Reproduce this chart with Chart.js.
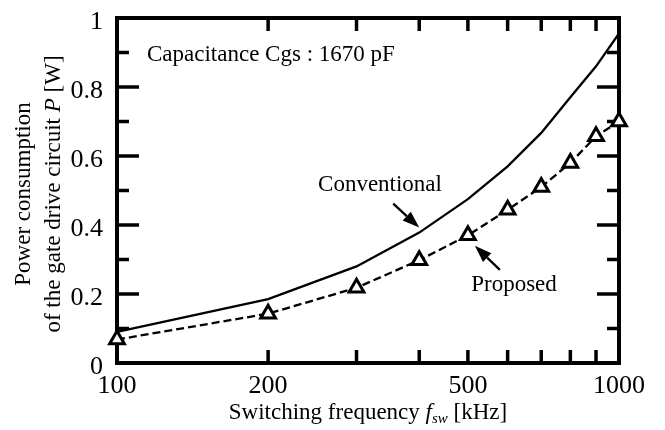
<!DOCTYPE html>
<html>
<head>
<meta charset="utf-8">
<script src="https://cdn.jsdelivr.net/npm/chart.js@4.4.0/dist/chart.umd.min.js"></script>
<style>
  html, body { margin: 0; padding: 0; background: #fff; }
  #wrap { width: 665px; height: 430px; }
</style>
</head>
<body>
<div id="wrap"><canvas id="powerChart" width="665" height="430"></canvas></div>
<script>
// switching frequency [kHz]
const freqs = [100, 200, 300, 400, 500, 600, 700, 800, 900, 1000];
// power consumption [W]
const conventional = [0.09, 0.185, 0.28, 0.378, 0.475, 0.57, 0.667, 0.77, 0.86, 0.955];
const proposed = [0.068, 0.143, 0.218, 0.298, 0.37, 0.444, 0.51, 0.58, 0.657, 0.70];

const xTickValues = [100, 200, 300, 400, 500, 600, 700, 800, 900, 1000];
const xTickLabels = { 100: '100', 200: '200', 500: '500', 1000: '1000' };
const yMajorTicks = [0, 0.2, 0.4, 0.6, 0.8, 1];
const yMinorTicks = [0.1, 0.3, 0.5, 0.7, 0.9];

const SERIF = '"Liberation Serif", "Times New Roman", serif';
const ctx = document.getElementById('powerChart').getContext('2d');

// draw a run of text pieces (normal / italic / subscript) centred on x
function drawRich(c, parts, x, y) {
    let total = 0;
    parts.forEach((p) => {
        c.font = p.font;
        p.w = c.measureText(p.text).width;
        total += p.w;
    });
    let cx = x - total / 2;
    c.textAlign = 'left';
    c.textBaseline = 'alphabetic';
    parts.forEach((p) => {
        c.font = p.font;
        c.fillText(p.text, cx, y + (p.dy || 0));
        cx += p.w;
    });
}

function arrow(c, x0, y0, x1, y1) {
    const ang = Math.atan2(y1 - y0, x1 - x0);
    const len = 17, half = 6;
    const bx = x1 - len * Math.cos(ang), by = y1 - len * Math.sin(ang);
    c.lineWidth = 2.3;
    c.beginPath();
    c.moveTo(x0, y0);
    c.lineTo(bx, by);
    c.stroke();
    c.beginPath();
    c.moveTo(x1, y1);
    c.lineTo(bx + half * Math.sin(ang), by - half * Math.cos(ang));
    c.lineTo(bx - half * Math.sin(ang), by + half * Math.cos(ang));
    c.closePath();
    c.fill();
}

// frame with inward ticks, drawn under the data
const frameTicks = {
    id: 'frameTicks',
    beforeDatasetsDraw(chart) {
        const { ctx: c, chartArea: a, scales: { x, y } } = chart;
        c.save();
        c.strokeStyle = '#000';
        c.lineWidth = 3.5;
        c.beginPath();
        yMajorTicks.concat(yMinorTicks).forEach((v) => {
            const py = y.getPixelForValue(v);
            const len = yMinorTicks.includes(v) ? 12 : 22;
            c.moveTo(a.left, py); c.lineTo(a.left + len, py);
            c.moveTo(a.right, py); c.lineTo(a.right - len, py);
        });
        xTickValues.slice(1, -1).forEach((v) => {
            const px = x.getPixelForValue(v);
            c.moveTo(px, a.bottom); c.lineTo(px, a.bottom - 13);
            c.moveTo(px, a.top); c.lineTo(px, a.top + 13);
        });
        c.stroke();
        c.lineWidth = 4;
        c.strokeRect(a.left, a.top, a.right - a.left, a.bottom - a.top);
        c.restore();
    },
    afterDraw(chart) {
        const { ctx: c, chartArea: a, scales: { x, y } } = chart;
        c.save();
        c.fillStyle = '#000';
        c.strokeStyle = '#000';

        // axis titles
        drawRich(c, [
            { text: 'Switching frequency ', font: '23px ' + SERIF },
            { text: 'f', font: 'italic 23px ' + SERIF },
            { text: 'sw', font: 'italic 15px ' + SERIF, dy: 4 },
            { text: ' [kHz]', font: '23px ' + SERIF }
        ], (a.left + a.right) / 2, 419);

        c.save();
        c.translate(30, 194);
        c.rotate(-Math.PI / 2);
        drawRich(c, [{ text: 'Power consumption', font: '23px ' + SERIF }], 0, 0);
        c.restore();
        c.save();
        c.translate(60, 194);
        c.rotate(-Math.PI / 2);
        drawRich(c, [
            { text: 'of the gate drive circuit ', font: '23px ' + SERIF },
            { text: 'P', font: 'italic 23px ' + SERIF },
            { text: ' [W]', font: '23px ' + SERIF }
        ], 0, 0);
        c.restore();

        // notes
        c.font = '23px ' + SERIF;
        c.textAlign = 'left';
        c.textBaseline = 'middle';
        c.fillText('Capacitance Cgs : 1670 pF', a.left + 30, 55);
        c.textAlign = 'center';
        c.fillText('Conventional', 380, 185);
        c.fillText('Proposed', 514, 285);

        const cx = x.getPixelForValue(freqs[3]);
        const cy = y.getPixelForValue(conventional[3]) - 5;
        arrow(c, cx - 26, cy - 24, cx, cy);
        const px = x.getPixelForValue(freqs[4]) + 7;
        const py = y.getPixelForValue(proposed[4]) + 10.5;
        arrow(c, px + 25, py + 24, px, py);
        c.restore();
    }
};

new Chart(ctx, {
    type: 'line',
    data: {
        labels: freqs,
        datasets: [
            {
                label: 'Conventional',
                data: freqs.map((f, i) => ({ x: f, y: conventional[i] })),
                borderColor: '#000',
                borderWidth: 2.3,
                pointRadius: 0,
                tension: 0,
                fill: false,
                clip: false
            },
            {
                label: 'Proposed',
                data: freqs.map((f, i) => ({ x: f, y: proposed[i] })),
                borderColor: '#000',
                borderWidth: 2.3,
                borderDash: [8, 4],
                pointStyle: 'triangle',
                pointRadius: 8.5,
                pointBorderWidth: 3,
                pointBackgroundColor: '#fff',
                pointBorderColor: '#000',
                tension: 0,
                fill: false,
                clip: false
            }
        ]
    },
    options: {
        responsive: false,
        animation: false,
        layout: { padding: { left: 0, right: 46, top: 18, bottom: 0 } },
        plugins: { legend: { display: false }, tooltip: { enabled: false } },
        scales: {
            x: {
                type: 'logarithmic',
                min: 100,
                max: 1000,
                grid: { display: false, drawTicks: false },
                border: { display: false },
                afterBuildTicks: (scale) => {
                    scale.ticks = xTickValues.map((v) => ({ value: v }));
                },
                afterFit: (scale) => {
                    scale.height = 67;
                    scale.paddingLeft = 0;
                    scale.paddingRight = 0;
                },
                ticks: {
                    autoSkip: false,
                    maxRotation: 0,
                    padding: 8,
                    color: '#000',
                    font: { family: SERIF, size: 26 },
                    callback: (v) => xTickLabels[v] || ''
                }
            },
            y: {
                min: 0,
                max: 1,
                grid: { display: false, drawTicks: false },
                border: { display: false },
                afterFit: (scale) => {
                    scale.width = 117;
                    scale.paddingTop = 0;
                    scale.paddingBottom = 0;
                },
                ticks: {
                    stepSize: 0.2,
                    padding: 14,
                    labelOffset: 4,
                    color: '#000',
                    font: { family: SERIF, size: 26 },
                    callback: (v) => (v === 0 || v === 1 ? String(v) : v.toFixed(1))
                }
            }
        }
    },
    plugins: [frameTicks]
});
</script>
</body>
</html>
